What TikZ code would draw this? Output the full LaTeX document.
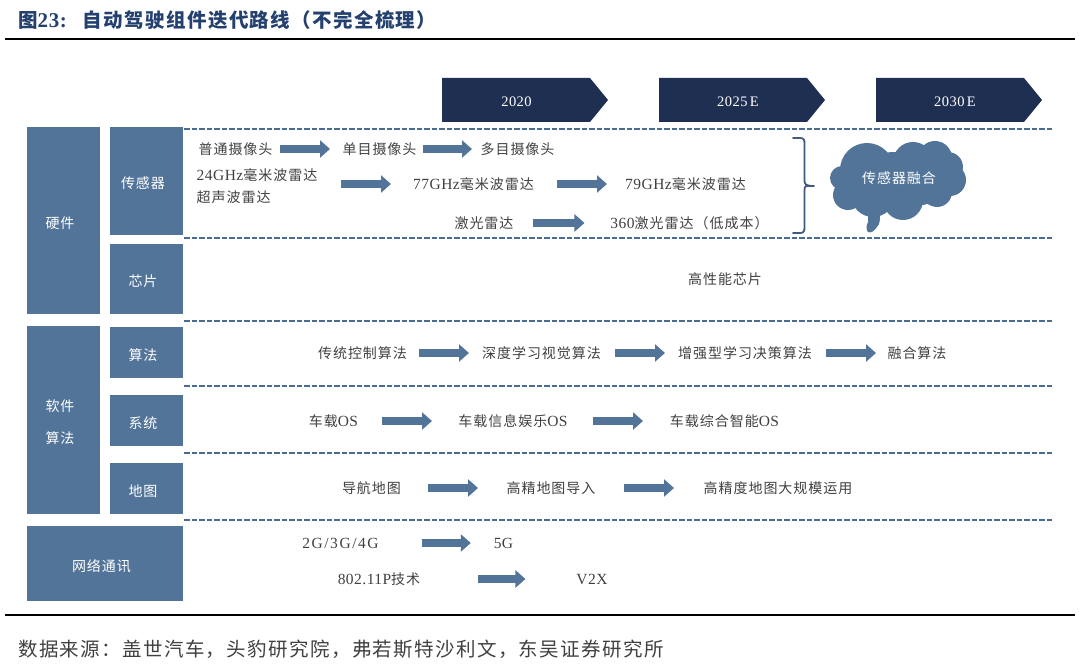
\documentclass[tikz,border=0pt]{standalone}
\usepackage{fontspec}
\setmainfont{Noto Sans CJK SC}[LetterSpace=7]
\newfontfamily\latf{Liberation Serif}[LetterSpace=3]
\newfontfamily\latw{Liberation Serif}[LetterSpace=10]
\newcommand{\lat}[1]{{\latf\fontsize{15.5}{18}\selectfont #1}}
\newcommand{\tlat}[1]{{\latf\bfseries\fontsize{21}{24}\selectfont #1}}
\newcommand{\fcolon}{\char"FF1A\relax}
\newcommand{\fcomma}{\char"FF0C\relax}
\newcommand{\flp}{\char"FF08\relax}
\newcommand{\frp}{\char"FF09\relax}
\usetikzlibrary{arrows.meta,shapes.arrows}
\definecolor{boxblue}{HTML}{527499}
\definecolor{navy}{HTML}{1F2F52}
\definecolor{txt}{HTML}{404040}
\definecolor{dashblue}{HTML}{4A6C92}
\definecolor{titleblue}{HTML}{24406E}
\definecolor{bracecol}{HTML}{3F5A7E}
\tikzset{
  x=1pt,y=-1pt,
  lbl/.style={inner sep=0pt,outer sep=0pt,text=txt,font=\fontsize{14}{20}\selectfont,align=center},
  bluebox/.style={fill=boxblue,inner sep=0pt,outer sep=0pt,anchor=north west},
  boxtext/.style={inner sep=0pt,text=white,font=\fontsize{14}{32}\selectfont,align=center},
  chev/.style={fill=navy,text=white},
  dashrule/.style={draw=dashblue,line width=1.7pt,dash pattern=on 5.5pt off 2pt},
  flowline/.style={draw=boxblue,line width=8pt,-{Triangle[length=10pt,width=17pt,fill=boxblue]}},
  mainrule/.style={draw=black,line width=2pt},
}
\newcommand{\lab}[6][]{\node[lbl,minimum width=#4pt-#3pt,#1] (#2) at ({(#3+#4)/2},#5) {\raisebox{-1pt}{#6}};}
\newcommand{\bx}[6]{\node[bluebox,minimum width=#4pt-#2pt,minimum height=#5pt-#3pt] (#1) at (#2,#3) {};
  \node[boxtext] (#1t) at ([xshift=-3.5pt,yshift=-2.5pt]#1.center) {#6};}
\newcommand{\flow}[4]{\draw[flowline,shorten <=#3pt,shorten >=#4pt] (#1.east) -- (#2.west);}
\begin{document}
\begin{tikzpicture}
\useasboundingbox (0,0) rectangle (1080,668);
% title and rules
\node[inner sep=0pt,anchor=west,text=titleblue,font=\fontsize{19.5}{22}\selectfont\bfseries] (title) at (18,20) {图\tlat{23:}\hspace{16pt}自动驾驶组件迭代路线\flp 不完全梳理\frp};
\coordinate (tl) at (5,39.5); \coordinate (tr) at (1075,39.5);
\coordinate (bl) at (5,614.5); \coordinate (br) at (1075,614.5);
\draw[mainrule] (tl) -- (tr);
\draw[mainrule] (bl) -- (br);
\node[inner sep=0pt,anchor=west,text=txt,font=\fontsize{19.5}{22}\selectfont] (foot) at (18,649) {数据来源\fcolon 盖世汽车\fcomma 头豹研究院\fcomma 弗若斯特沙利文\fcomma 东吴证券研究所};
% chevrons
\foreach \n/\x/\dx/\t in {a/442/74.5/2020,b/659/79/{2025\,E},c/876/79/{2030\,E}}{
  \fill[chev] (\x,78) -- (\x+148,78) -- (\x+166,100) -- (\x+148,122) -- (\x,122) -- cycle;
  \node[text=white,inner sep=0pt,font=\latf\fontsize{14.5}{16}\selectfont] (yr\n) at (\x+\dx,101.5) {\t};
}
% boxes
\bx{hw}{27}{127}{100}{314}{硬件}
\bx{sens}{110}{127}{183}{235}{传感器}
\bx{chip}{110}{244}{183}{314}{芯片}
\bx{sw}{27}{326}{100}{514}{软件\\算法}
\bx{algo}{110}{327}{183}{378}{算法}
\bx{sys}{110}{395}{183}{446}{系统}
\bx{map}{110}{463}{183}{514}{地图}
\bx{net}{27}{526}{183}{601}{网络通讯}
% dashed rules
\foreach \y in {129,238,321,386,453,520}{
  \draw[dashrule] (184,\y) -- (1052,\y);
}
% sensor rows
\lab{s1}{198}{273}{149}{普通摄像头}
\lab{s2}{342}{417}{149}{单目摄像头}
\lab{s3}{480}{555}{149}{多目摄像头}
\flow{s1}{s2}{7}{12}
\flow{s2}{s3}{6}{8}
\node[lbl,inner sep=0pt,align=left,anchor=west,minimum width=122pt] (r1) at (196,186.5) {\lat{24GHz}毫米波雷达\\[2pt]超声波雷达};
\lab{r2}{412}{535}{184}{\lat{77GHz}毫米波雷达}
\lab{r3}{624}{747}{184}{\lat{79GHz}毫米波雷达}
\draw[flowline,shorten <=23pt,shorten >=21pt] (r1.east |- r2.west) -- (r2.west);
\flow{r2}{r3}{22}{17}
\lab{l1}{454}{514}{223}{激光雷达}
\lab{l2}{613}{766}{223}{\lat{360}激光雷达\flp 低成本\frp}
\flow{l1}{l2}{19}{26}
\lab{hp}{688}{762}{279}{高性能芯片}
% algorithms
\lab{a1}{317}{408}{353}{传统控制算法}
\lab{a2}{480}{603}{353}{深度学习视觉算法}
\lab{a3}{676}{814}{353}{增强型学习决策算法}
\lab{a4}{887}{947}{353}{融合算法}
\flow{a1}{a2}{11}{11}
\flow{a2}{a3}{12}{11}
\flow{a3}{a4}{12}{11}
% systems
\lab{o1}{309}{358}{421}{车载\lat{OS}}
\lab{o2}{458}{568}{421}{车载信息娱乐\lat{OS}}
\lab{o3}{669}{780}{421}{车载综合智能\lat{OS}}
\flow{o1}{o2}{24}{26}
\flow{o2}{o3}{25}{26}
% maps
\lab{m1}{342}{401}{488}{导航地图}
\lab{m2}{505}{597}{488}{高精地图导入}
\lab{m3}{702}{854}{488}{高精度地图大规模运用}
\flow{m1}{m2}{27}{27}
\flow{m2}{m3}{27}{28}
% network
\lab{n1}{303}{378}{543}{{\latw\fontsize{15.5}{18}\selectfont 2G/3G/4G}}
\lab{n2}{494}{513}{543}{\lat{5G}}
\flow{n1}{n2}{43}{23}
\lab{v1}{340}{418}{579}{\lat{802.11P}技术}
\lab{v2}{577}{607}{579}{\lat{V2X}}
\flow{v1}{v2}{58}{51}
% brace
\coordinate (bt) at (793,138); \coordinate (bb) at (793,233); \coordinate (btip) at (814,186);
\draw[bracecol,line width=1.8pt,line cap=round,line join=round]
  (bt) -- (800,138) .. controls (804,138) and (804.5,140) .. (804.5,144) -- (804.5,180)
  .. controls (804.5,184) and (805,186) .. (btip)
  (btip) -- (806,186) .. controls (805,186) and (804.5,188) .. (804.5,192) -- (804.5,227)
  .. controls (804.5,231) and (804,233) .. (800,233) -- (bb);
% cloud
\fill[boxblue]
  (897,180) ellipse [x radius=58pt,y radius=28pt]
  (867,170) circle [radius=27pt]
  (842,178) circle [radius=12pt]
  (913,162) circle [radius=20pt]
  (935,158) circle [radius=17pt]
  (948,167) circle [radius=15pt]
  (950,180) circle [radius=16pt]
  (937,192) circle [radius=15pt]
  (903,200) circle [radius=20pt]
  (873,195) circle [radius=22pt]
  (848,195) circle [radius=15pt];
\fill[boxblue] (868,212) -- (868,222) .. controls (866,226) and (866,230) .. (868,232)
  .. controls (871,234) and (875,230) .. (877,227) .. controls (880,224) and (880,220) .. (880,214) -- cycle;
\node[text=white,inner sep=0pt,font=\fontsize{14}{16}\selectfont] (fusion) at (899,178) {传感器融合};
\end{tikzpicture}
\end{document}
